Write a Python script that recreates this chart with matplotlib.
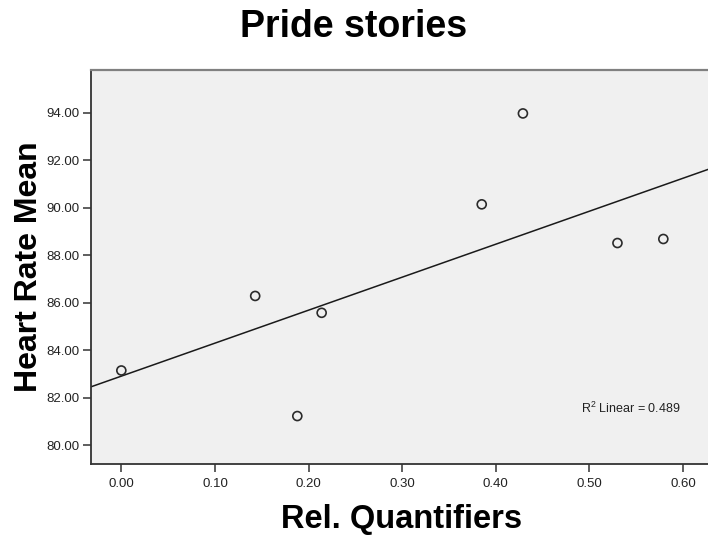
import numpy as np
import matplotlib
matplotlib.use("Agg")
import matplotlib.pyplot as plt
from matplotlib.ticker import FormatStrFormatter

# --- data ---
rel_quantifiers = [0.000, 0.143, 0.214, 0.188, 0.385, 0.429, 0.530, 0.579]
heart_rate_mean = [83.14, 86.28, 85.57, 81.22, 90.14, 93.97, 88.51, 88.68]
r2_linear = 0.489

x_ticks = [0.0, 0.1, 0.2, 0.3, 0.4, 0.5, 0.6]
y_ticks = [80, 82, 84, 86, 88, 90, 92, 94]

plt.rcParams["font.family"] = ["Liberation Sans", "DejaVu Sans"]
plt.rcParams["mathtext.fontset"] = "custom"
plt.rcParams["mathtext.rm"] = "Liberation Sans"

W, H = 708, 535
fig = plt.figure(figsize=(W / 100, H / 100), dpi=100)
fig.patch.set_facecolor("white")

# axes box in pixels: left 91, top 70, bottom 464, right runs past the edge
ax = fig.add_axes([91 / W, 1 - 464 / H, (712 - 91) / W, (464 - 70) / H])
ax.set_facecolor("#f0f0f0")

ax.set_xlim(-0.0324, 0.631)
ax.set_ylim(79.20, 95.80)

# linear fit line across the whole plot area
slope, intercept = np.polyfit(rel_quantifiers, heart_rate_mean, 1)
xl = np.array(ax.get_xlim())
ax.plot(xl, intercept + slope * xl, color="#1a1a1a", lw=1.1, zorder=2)

ax.scatter(rel_quantifiers, heart_rate_mean, s=42, facecolors="none",
           edgecolors="#2b2b2b", linewidths=1.2, zorder=3)

ax.set_xticks(x_ticks)
ax.set_yticks(y_ticks)
ax.xaxis.set_major_formatter(FormatStrFormatter("%.2f"))
ax.yaxis.set_major_formatter(FormatStrFormatter("%.2f"))
ax.tick_params(axis="both", direction="out", length=6, width=1.1,
               color="#333333", labelsize=9.5, labelcolor="#222222")
ax.tick_params(axis="x", pad=4)
ax.tick_params(axis="y", pad=2)

for side in ("left", "bottom"):
    ax.spines[side].set_color("#333333")
    ax.spines[side].set_linewidth(1.3)
ax.spines["top"].set_color("#808080")
ax.spines["top"].set_linewidth(1.6)
ax.spines["right"].set_visible(False)

ax.text((581 - 91) / 621, (464 - 412.7) / 394,
        r"R$^{\mathregular{2}}$" + f" Linear = {r2_linear:.3f}",
        transform=ax.transAxes,
        fontsize=9, color="#222222", ha="left", va="baseline")

ax.set_xlabel("Rel. Quantifiers", fontsize=23.5, fontweight="bold")
ax.xaxis.set_label_coords(0.5, (464 - 504) / 394)
ax.set_ylabel("Heart Rate Mean", fontsize=23, fontweight="bold", va="center")
ax.yaxis.set_label_coords((29 - 91) / 621, 0.5)

fig.text(0.5, 1 - 37 / H, "Pride stories", fontsize=27, fontweight="bold",
         ha="center", va="baseline")

fig.savefig("out.png", dpi=100)
